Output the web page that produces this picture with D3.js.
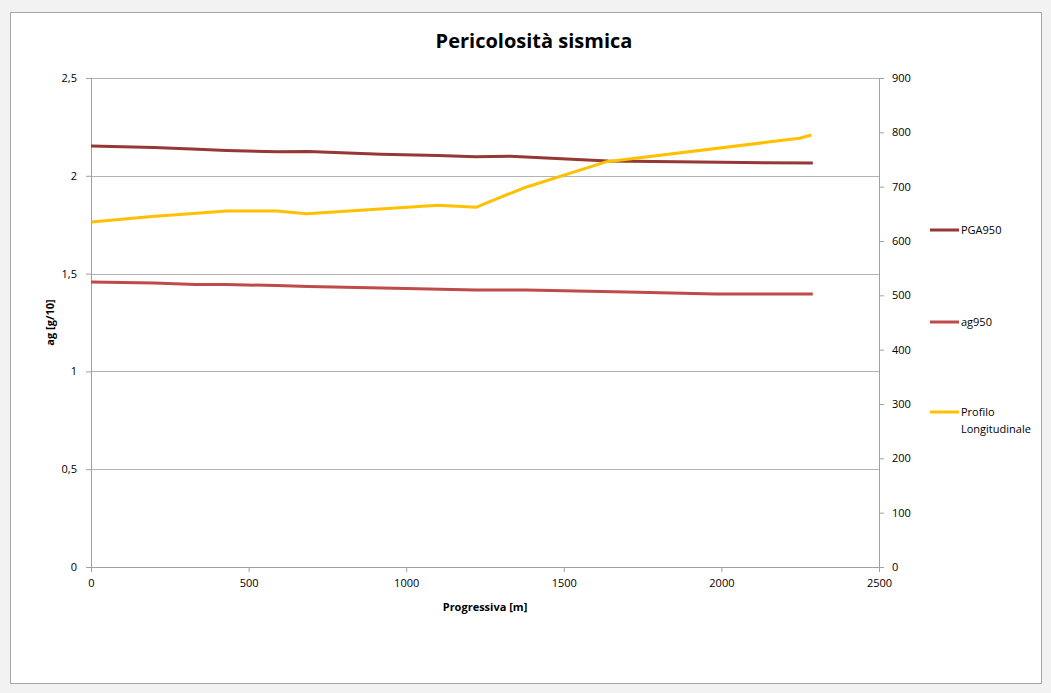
<!DOCTYPE html>
<html>
<head>
<meta charset="utf-8">
<script src="https://cdn.jsdelivr.net/npm/d3@7"></script>
<style>
    body { margin: 0; background: #f2f2f2; }
    text { font-family: "Open Sans", "Noto Sans", sans-serif; fill: #000; }
    .tick text { font-size: 11px; }
    .axisTitle { font-size: 11px; font-weight: bold; }
    .legendText { font-size: 11px; }
</style>
</head>
<body>
<div id="chart"></div>
<script>
// ============
//   Data
// ============

// Progressiva [m] for each sample of the seismic series
const progressiva = [0, 200, 320, 430, 590, 690, 920, 1100, 1220, 1330, 1640, 2000, 2290];
// PGA950 [g/10]
const pga950 = [2.152, 2.145, 2.137, 2.129, 2.123, 2.124, 2.110, 2.104, 2.098, 2.100, 2.076, 2.069, 2.065];

// ag950 series
const agX = [0, 200, 330, 430, 590, 690, 1000, 1220, 1380, 1700, 1980, 2290];
const ag950 = [1.457, 1.452, 1.444, 1.444, 1.439, 1.434, 1.424, 1.416, 1.416, 1.406, 1.396, 1.396];

// Profilo longitudinale (right axis, m)
const profiloX = [2, 193, 314, 430, 589, 684, 1101, 1221, 1370, 1636, 2248, 2286];
const profilo = [635, 645, 650, 655, 655, 650, 666, 662, 697, 746, 789, 795];

// Ticks
const xTicks = [0, 500, 1000, 1500, 2000, 2500];
const yLeftTicks = [0, 0.5, 1, 1.5, 2, 2.5];
const yRightTicks = [0, 100, 200, 300, 400, 500, 600, 700, 800, 900];

// ============
//   Plot box
// ============

const W = 1051, H = 693;
const margins = { top: 78, left: 91 };
const width = 788;
const height = 489;

const svg = d3.select("#chart").append("svg")
    .attr("width", W)
    .attr("height", H);

// outer frame
svg.append("rect")
    .attr("x", 10.5).attr("y", 12.5)
    .attr("width", 1031).attr("height", 671)
    .attr("fill", "#fff")
    .attr("stroke", "#a6a6a6");

svg.append("text")
    .attr("x", 534).attr("y", 48)
    .attr("text-anchor", "middle")
    .style("font-size", "20px")
    .style("font-weight", "bold")
    .text("Pericolosità sismica");

const g = svg.append("g")
    .attr("transform", `translate(${margins.left}, ${margins.top})`);

const xScale = d3.scaleLinear().domain([0, 2500]).range([0, width]);
const yLeft = d3.scaleLinear().domain([0, 2.5]).range([height, 0]);
const yRight = d3.scaleLinear().domain([0, 900]).range([height, 0]);

const fmt = d => String(d).replace(".", ",");

// gridlines
g.append("g")
    .selectAll("line")
    .data(yLeftTicks.filter(d => d > 0))
    .join("line")
        .attr("x1", 0).attr("x2", width)
        .attr("y1", d => Math.round(yLeft(d)) + 0.5)
        .attr("y2", d => Math.round(yLeft(d)) + 0.5)
        .attr("stroke", "#b3b3b3");

// axes
function styleAxis(sel) {
    sel.select(".domain").attr("stroke", "#a0a0a0");
    sel.selectAll(".tick line").attr("stroke", "#a0a0a0");
    sel.selectAll(".tick text").attr("fill", "#000");
}

g.append("g")
    .attr("transform", `translate(0, ${height})`)
    .call(d3.axisBottom(xScale).tickValues(xTicks).tickFormat(d => String(d)).tickSize(5).tickSizeOuter(0).tickPadding(7))
    .call(styleAxis);

g.append("g")
    .call(d3.axisLeft(yLeft).tickValues(yLeftTicks).tickFormat(fmt).tickSize(5).tickSizeOuter(0).tickPadding(9))
    .call(styleAxis);

g.append("g")
    .attr("transform", `translate(${width}, 0)`)
    .call(d3.axisRight(yRight).tickValues(yRightTicks).tickFormat(d => String(d)).tickSize(5).tickSizeOuter(0).tickPadding(8))
    .call(styleAxis);

// axis titles
g.append("text")
    .attr("class", "axisTitle")
    .attr("transform", `translate(-37, ${height / 2}) rotate(-90)`)
    .attr("text-anchor", "middle")
    .text("ag [g/10]");

g.append("text")
    .attr("class", "axisTitle")
    .attr("x", 394).attr("y", 533)
    .attr("text-anchor", "middle")
    .text("Progressiva [m]");

// series
const series = [
    { name: "PGA950", xs: progressiva, ys: pga950, y: yLeft, color: "#953735" },
    { name: "ag950", xs: agX, ys: ag950, y: yLeft, color: "#be4b48" },
    { name: "Profilo Longitudinale", xs: profiloX, ys: profilo, y: yRight, color: "#ffc000" }
];

series.forEach(s => {
    const line = d3.line()
        .x((d, i) => xScale(s.xs[i]))
        .y(d => s.y(d));
    g.append("path")
        .datum(s.ys)
        .attr("fill", "none")
        .attr("stroke", s.color)
        .attr("stroke-width", 3)
        .attr("stroke-linejoin", "round")
        .attr("d", line);
});

// legend
const legendY = [230, 322, 412];
const legend = svg.append("g");
series.forEach((s, i) => {
    legend.append("line")
        .attr("x1", 930).attr("x2", 959)
        .attr("y1", legendY[i]).attr("y2", legendY[i])
        .attr("stroke", s.color)
        .attr("stroke-width", 3);
    const words = s.name.split(" ");
    legend.append("text")
        .attr("class", "legendText")
        .attr("x", 961)
        .attr("y", legendY[i] + 4)
        .selectAll("tspan")
        .data(words)
        .join("tspan")
            .attr("x", 961)
            .attr("dy", (_, j) => j === 0 ? 0 : 17)
            .text(d => d);
});
</script>
</body>
</html>
